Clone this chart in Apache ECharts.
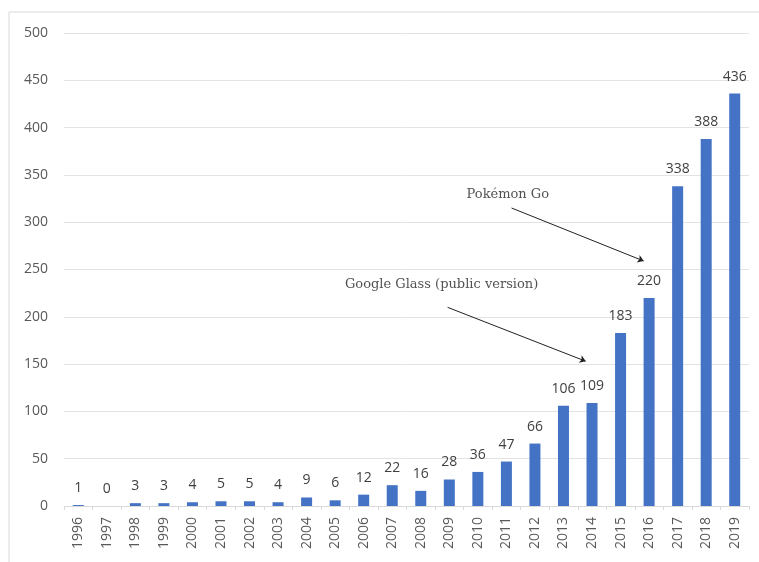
<!DOCTYPE html>
<html>
<head>
<meta charset="utf-8">
<script src="https://cdn.jsdelivr.net/npm/echarts@6/dist/echarts.min.js"></script>
<style>html,body{margin:0;padding:0;background:#fff}#c{width:759px;height:562px}</style>
</head>
<body>
<div id="c"></div>
<script>
const years = ['1996','1997','1998','1999','2000','2001','2002','2003','2004','2005','2006','2007','2008','2009','2010','2011','2012','2013','2014','2015','2016','2017','2018','2019'];
const counts = [1,0,3,3,4,5,5,4,9,6,12,22,16,28,36,47,66,106,109,183,220,338,388,436];
const yTicks = [0,500,50];
// annotations: [xIndexPos, value]
const annoTexts = ['Pokémon Go','Google Glass (public version)'];
const annoTextPos = [[15.05,329],[12.73,234]];
const annoArrowStart = [[15.18,315],[12.94,210]];
const annoArrowEnd = [[19.81,259],[17.78,153]];

const chart = echarts.init(document.getElementById('c'), null, {renderer:'canvas'});
chart.setOption({
  animation:false,
  backgroundColor:'#fff',
  grid:{left:64,right:10,top:33,bottom:56,containLabel:false},
  graphic:[
    {type:'line',shape:{x1:9,y1:12,x2:9,y2:562},style:{stroke:'#d9d9d9',lineWidth:1}},
    {type:'line',shape:{x1:9,y1:12,x2:759,y2:12},style:{stroke:'#d9d9d9',lineWidth:1}}
  ],
  xAxis:[
    {type:'category',data:years,
     axisLine:{show:true,lineStyle:{color:'#d9d9d9'}},
     axisTick:{show:true,length:4,lineStyle:{color:'#d9d9d9'}},
     axisLabel:{rotate:90,color:'#595959',fontSize:14,margin:11,fontFamily:'Open Sans'}},
    {type:'value',min:-0.5,max:years.length-0.5,show:false}
  ],
  yAxis:{type:'value',min:yTicks[0],max:yTicks[1],interval:yTicks[2],
    axisLine:{show:false},axisTick:{show:false},
    axisLabel:{color:'#595959',fontSize:14,margin:16,fontFamily:'Open Sans'},
    splitLine:{lineStyle:{color:'#e3e3e3'}}},
  series:[
    {type:'bar',data:counts,barWidth:11,xAxisIndex:0,
     itemStyle:{color:'#4472C4'},
     label:{show:true,position:'top',distance:10,color:'#404040',fontSize:14,fontFamily:'Open Sans'}},
    {type:'lines',coordinateSystem:'cartesian2d',xAxisIndex:1,yAxisIndex:0,
     symbol:['none','arrow'],symbolSize:6,
     lineStyle:{color:'#222',width:1,opacity:1,curveness:0},
     data:annoArrowStart.map((s,i)=>({coords:[s,annoArrowEnd[i]]}))},
    {type:'scatter',xAxisIndex:1,yAxisIndex:0,symbolSize:0,
     label:{show:true,position:'inside',formatter:p=>annoTexts[p.dataIndex],
       color:'#262626',fontSize:13,fontFamily:'DejaVu Serif'},
     data:annoTextPos}
  ]
});
</script>
</body>
</html>
